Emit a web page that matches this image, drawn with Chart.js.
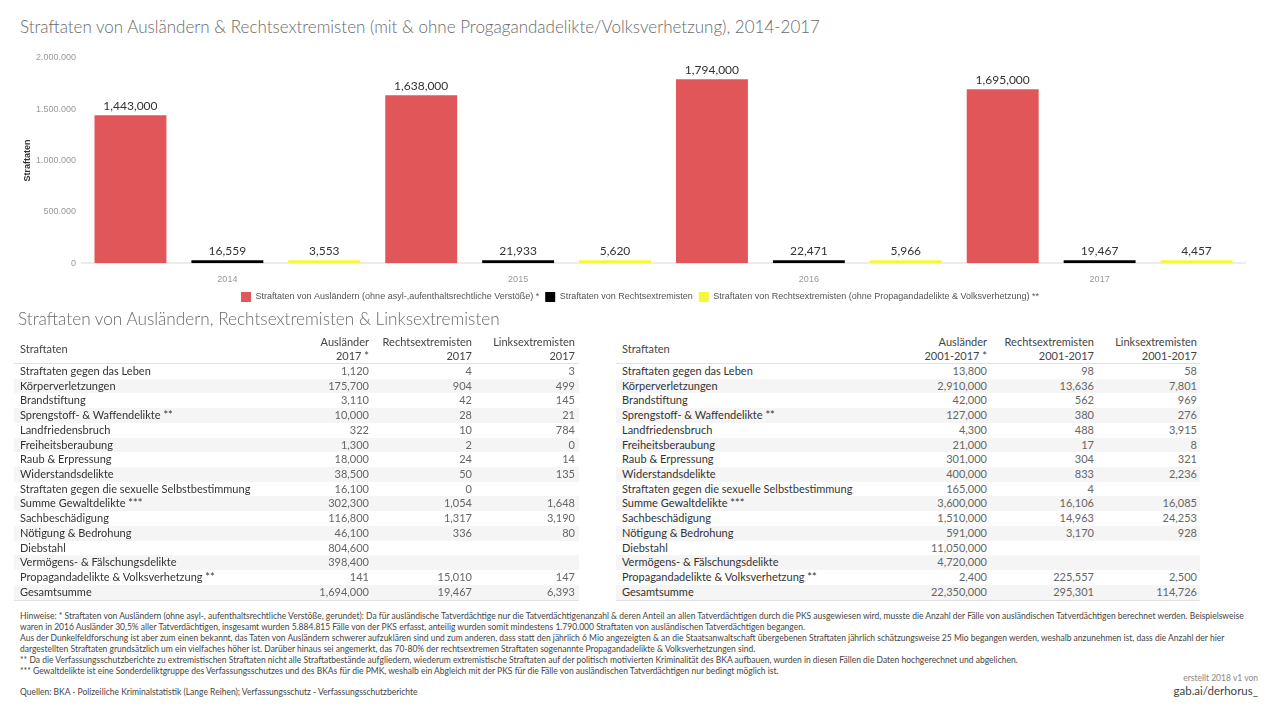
<!DOCTYPE html>
<html lang="de">
<head>
<meta charset="utf-8">
<script src="https://cdn.jsdelivr.net/npm/chart.js@4.4.1/dist/chart.umd.min.js"></script>
<style>
  body { margin: 0; width: 1280px; height: 720px; background: #fff; overflow: hidden; font-family: Lato, "Open Sans", sans-serif; position: relative; }
  .title { position: absolute; color: #6a6a6a; font-size: 17px; font-weight: 300; white-space: nowrap; }
  #chartBox { position: absolute; left: 0; top: 45px; width: 1280px; height: 267px; }
  .tbl { position: absolute; top: 334px; font-size: 11px; }
  .hdr { position: relative; height: 29px; border-bottom: 1px solid #e2e2e2; color: #444; }
  .hdr .lab { position: absolute; left: 6px; top: 8px; }
  .hdr .col { position: absolute; top: 1px; text-align: right; line-height: 14px; white-space: nowrap; }
  .row { position: relative; height: 14.73px; line-height: 14.73px; color: #333; }
  .row.alt { background: #f5f5f5; }
  .row.last { border-bottom: 1px solid #e2e2e2; }
  .row .lab { position: absolute; left: 6px; white-space: nowrap; }
  .row .val { position: absolute; text-align: right; color: #666; }
  #notes { position: absolute; left: 20px; top: 611px; font-size: 8.5px; line-height: 11px; color: #444; white-space: nowrap; }
  #credit { position: absolute; right: 22px; top: 673px; text-align: right; }
</style>
</head>
<body>
<div class="title" style="left:20px; top:16px;">Straftaten von Ausländern &amp; Rechtsextremisten (mit &amp; ohne Progagandadelikte/Volksverhetzung), 2014-2017</div>
<div id="chartBox"><canvas id="chart"></canvas></div>
<div class="title" style="left:18px; top:308px; font-size:17.2px;">Straftaten von Ausländern, Rechtsextremisten &amp; Linksextremisten</div>
<div id="tblLeft" class="tbl" style="left:14px; width:565px;"></div>
<div id="tblRight" class="tbl" style="left:616px; width:584px;"></div>
<div id="notes">
  <div>Hinweise: * Straftaten von Ausländern (ohne asyl-, aufenthaltsrechtliche Verstöße, gerundet): Da für ausländische Tatverdächtige nur die Tatverdächtigenanzahl &amp; deren Anteil an allen Tatverdächtigen durch die PKS ausgewiesen wird, musste die Anzahl der Fälle von ausländischen Tatverdächtigen berechnet werden. Beispielsweise</div>
  <div>waren in 2016 Ausländer 30,5% aller Tatverdächtigen, insgesamt wurden 5.884.815 Fälle von der PKS erfasst, anteilig wurden somit mindestens 1.790.000 Straftaten von ausländischen Tatverdächtigen begangen.</div>
  <div>Aus der Dunkelfeldforschung ist aber zum einen bekannt, das Taten von Ausländern schwerer aufzuklären sind und zum anderen, dass statt den jährlich 6 Mio angezeigten &amp; an die Staatsanwaltschaft übergebenen Straftaten jährlich schätzungsweise 25 Mio begangen werden, weshalb anzunehmen ist, dass die Anzahl der hier</div>
  <div>dargestellten Straftaten grundsätzlich um ein vielfaches höher ist. Darüber hinaus sei angemerkt, das 70-80% der rechtsextremen Straftaten sogenannte Propagandadelikte &amp; Volksverhetzungen sind.</div>
  <div>** Da die Verfassungsschutzberichte zu extremistischen Straftaten nicht alle Straftatbestände aufgliedern, wiederum extremistische Straftaten auf der politisch motivierten Kriminalität des BKA aufbauen, wurden in diesen Fällen die Daten hochgerechnet und abgelichen.</div>
  <div>*** Gewaltdelikte ist eine Sonderdeliktgruppe des Verfassungsschutzes und des BKAs für die PMK, weshalb ein Abgleich mit der PKS für die Fälle von ausländischen Tatverdächtigen nur bedingt möglich ist.</div>
  <div style="margin-top:10px;">Quellen: BKA - Polizeiliche Kriminalstatistik (Lange Reihen); Verfassungsschutz - Verfassungsschutzberichte</div>
</div>
<div id="credit">
  <div style="font-size:8.5px; color:#888;">erstellt 2018 v1 von</div>
  <div style="font-size:11.5px; color:#444; margin-top:1px;">gab.ai/derhorus_</div>
</div>
<script>
// Balkendiagramm-Daten
const years = ["2014", "2015", "2016", "2017"];
const auslaender = [1443000, 1638000, 1794000, 1695000];
const rechts = [16559, 21933, 22471, 19467];
const rechtsOhnePropaganda = [3553, 5620, 5966, 4457];
const yTicks = [0, 500000, 1000000, 1500000, 2000000];

// Tabellen-Daten
const delikte = [
  "Straftaten gegen das Leben", "Körperverletzungen", "Brandstiftung", "Sprengstoff- & Waffendelikte **",
  "Landfriedensbruch", "Freiheitsberaubung", "Raub & Erpressung", "Widerstandsdelikte",
  "Straftaten gegen die sexuelle Selbstbestimmung", "Summe Gewaltdelikte ***", "Sachbeschädigung",
  "Nötigung & Bedrohung", "Diebstahl", "Vermögens- & Fälschungsdelikte",
  "Propagandadelikte & Volksverhetzung **", "Gesamtsumme"
];
const ausl2017 = [1120, 175700, 3110, 10000, 322, 1300, 18000, 38500, 16100, 302300, 116800, 46100, 804600, 398400, 141, 1694000];
const rechts2017 = [4, 904, 42, 28, 10, 2, 24, 50, 0, 1054, 1317, 336, null, null, 15010, 19467];
const links2017 = [3, 499, 145, 21, 784, 0, 14, 135, null, 1648, 3190, 80, null, null, 147, 6393];
const auslGesamt = [13800, 2910000, 42000, 127000, 4300, 21000, 301000, 400000, 165000, 3600000, 1510000, 591000, 11050000, 4720000, 2400, 22350000];
const rechtsGesamt = [98, 13636, 562, 380, 488, 17, 304, 833, 4, 16106, 14963, 3170, null, null, 225557, 295301];
const linksGesamt = [58, 7801, 969, 276, 3915, 8, 321, 2236, null, 16085, 24253, 928, null, null, 2500, 114726];

const fmt = (v) => v.toLocaleString("en-US");

// Tabellen bauen
function buildTable(el, heads, cols, rights) {
  let html = '<div class="hdr"><div class="lab">Straftaten</div>';
  heads.forEach((h, i) => {
    html += `<div class="col" style="right:${rights[i]}px">${h[0]}<br>${h[1]}</div>`;
  });
  html += "</div>";
  delikte.forEach((name, r) => {
    const cls = "row" + (r % 2 === 1 ? " alt" : "") + (r === delikte.length - 1 ? " last" : "");
    html += `<div class="${cls}"><div class="lab">${name.replace(/&/g, "&amp;")}</div>`;
    cols.forEach((c, i) => {
      if (c[r] !== null) html += `<div class="val" style="right:${rights[i]}px">${fmt(c[r])}</div>`;
    });
    html += "</div>";
  });
  el.innerHTML = html;
}
buildTable(document.getElementById("tblLeft"),
  [["Ausländer", "2017 *"], ["Rechtsextremisten", "2017"], ["Linksextremisten", "2017"]],
  [ausl2017, rechts2017, links2017], [210, 107, 4]);
buildTable(document.getElementById("tblRight"),
  [["Ausländer", "2001-2017 *"], ["Rechtsextremisten", "2001-2017"], ["Linksextremisten", "2001-2017"]],
  [auslGesamt, rechtsGesamt, linksGesamt], [213, 106, 3]);

// Werte über den Balken
const valueLabels = {
  id: "valueLabels",
  afterDatasetsDraw(chart) {
    const ctx = chart.ctx;
    ctx.save();
    ctx.font = "12px Lato, sans-serif";
    ctx.fillStyle = "#333";
    ctx.textAlign = "center";
    ctx.textBaseline = "bottom";
    chart.data.datasets.forEach((ds, i) => {
      chart.getDatasetMeta(i).data.forEach((bar, j) => {
        ctx.fillText(fmt(ds.data[j]), bar.x, bar.y - 3);
      });
    });
    ctx.restore();
  },
};

new Chart(document.getElementById("chart").getContext("2d"), {
  type: "bar",
  data: {
    labels: years,
    datasets: [
      { label: "Straftaten von Ausländern (ohne asyl-,aufenthaltsrechtliche Verstöße) *", data: auslaender, backgroundColor: "#e15759" },
      { label: "Straftaten von Rechtsextremisten", data: rechts, backgroundColor: "#000000" },
      { label: "Straftaten von Rechtsextremisten (ohne Propagandadelikte & Volksverhetzung) **", data: rechtsOhnePropaganda, backgroundColor: "#f7f73a" },
    ],
  },
  options: {
    responsive: true,
    maintainAspectRatio: false,
    animation: false,
    layout: { padding: { left: 0, right: 0, top: 13, bottom: 0 } },
    datasets: { bar: { barPercentage: 0.742, categoryPercentage: 1.0, minBarLength: 3 } },
    scales: {
      x: {
        grid: { display: false, drawTicks: false },
        border: { color: "#ececec", width: 2 },
        ticks: { color: "#999", font: { size: 9 }, padding: 11 },
        afterFit: (s) => { s.height = s.height - 10; },
      },
      y: {
        min: 0,
        max: 2000000,
        afterBuildTicks: (s) => { s.ticks = yTicks.map((v) => ({ value: v })); },
        afterFit: (s) => { s.width = 82; },
        grid: { display: false, drawTicks: false },
        border: { display: false },
        ticks: { color: "#999", font: { size: 9 }, padding: 6, callback: (v) => v.toLocaleString("de-DE") },
        title: { display: true, text: "Straftaten", color: "#333", font: { size: 9, weight: "bold" }, padding: { top: 22, bottom: 0 } },
      },
      // leerer Rand rechts, damit die Legende mittig bleibt
      yRight: {
        position: "right",
        grid: { display: false, drawTicks: false },
        border: { display: false },
        ticks: { display: false },
        afterFit: (s) => { s.width = 35; },
      },
    },
    plugins: {
      legend: {
        position: "bottom",
        labels: { boxWidth: 10, boxHeight: 10, color: "#555", font: { size: 9 }, padding: 6 },
      },
      tooltip: { enabled: false },
    },
  },
  plugins: [valueLabels],
});
</script>
</body>
</html>
